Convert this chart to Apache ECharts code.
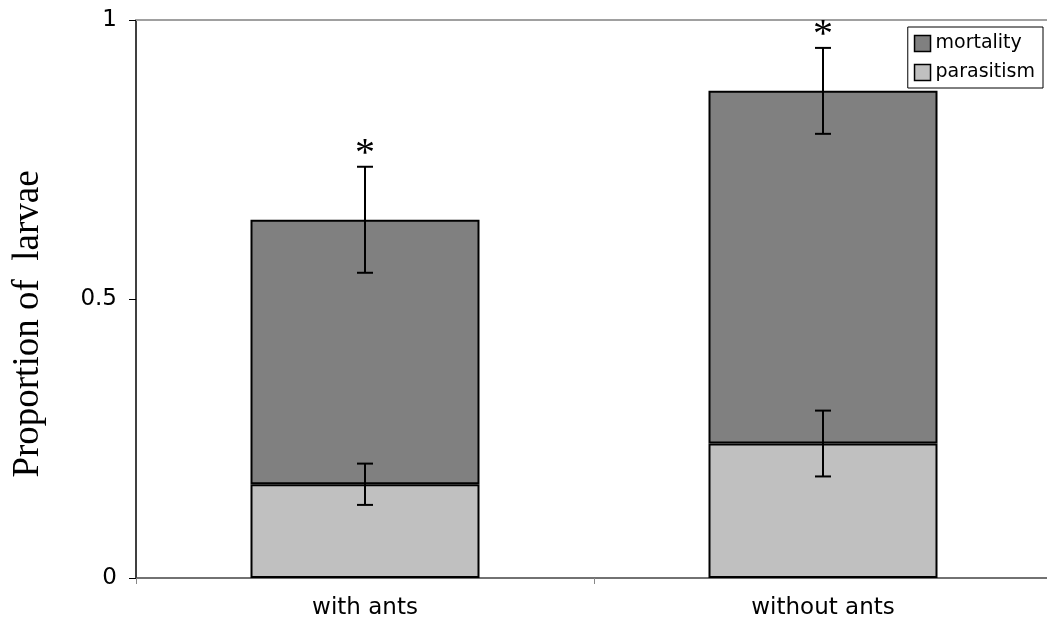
<!DOCTYPE html>
<html>
<head>
<meta charset="utf-8">
<script src="https://cdn.jsdelivr.net/npm/echarts@6/dist/echarts.min.js"></script>
<style>
  html, body { margin: 0; padding: 0; background: #fff; }
  #chart { width: 1047px; height: 627px; }
</style>
</head>
<body>
<div id="chart"></div>
<script>
// Treatments on the category axis
const categories = ['with ants', 'without ants'];
// Proportion of larvae parasitised (bottom segment)
const parasitism = [0.168, 0.241];
// Proportion of larvae dying from other causes (stacked on top)
const mortality = [0.474, 0.632];
// Standard errors: parasitism alone and total (parasitism + mortality)
const parasitismErr = [0.037, 0.059];
const totalErr = [0.095, 0.077];
// Significance marks shown above the total error bars
const significance = ['*', '*'];
// Value axis ticks
const yTicks = [0, 0.5, 1];
// Value axis title
const yTitle = 'Proportion of  larvae';

const sansFont = 'DejaVu Sans';

// Error bar rows: [category index, centre, half-width, mark]
const errorRows = [];
categories.forEach((c, i) => {
  errorRows.push([i, parasitism[i], parasitismErr[i], '']);
  errorRows.push([i, parasitism[i] + mortality[i], totalErr[i], significance[i]]);
});

function renderErrorBar(params, api) {
  const x = api.value(0);
  const mid = api.value(1);
  const err = api.value(2);
  const mark = errorRows[params.dataIndex][3];
  const top = api.coord([x, mid + err]);
  const bottom = api.coord([x, mid - err]);
  const cap = 8;
  const style = { stroke: '#000', lineWidth: 2 };
  const children = [
    { type: 'line', shape: { x1: top[0], y1: top[1], x2: bottom[0], y2: bottom[1] }, style },
    { type: 'line', shape: { x1: top[0] - cap, y1: top[1], x2: top[0] + cap, y2: top[1] }, style },
    { type: 'line', shape: { x1: bottom[0] - cap, y1: bottom[1], x2: bottom[0] + cap, y2: bottom[1] }, style }
  ];
  if (mark) {
    children.push({
      type: 'text',
      style: {
        text: mark, x: top[0], y: top[1] - 12,
        align: 'center', verticalAlign: 'middle',
        font: '40px "Liberation Serif"', fill: '#000'
      }
    });
  }
  return { type: 'group', children };
}

const chart = echarts.init(document.getElementById('chart'), null, { renderer: 'canvas' });

chart.setOption({
  animation: false,
  backgroundColor: '#fff',
  grid: { left: 136, right: -5, top: 20, bottom: 49, containLabel: false, outerBoundsMode: 'none' },
  graphic: [
    {
      type: 'text',
      x: 28,
      y: 324,
      rotation: Math.PI / 2,
      style: {
        text: yTitle,
        align: 'center',
        verticalAlign: 'middle',
        font: '37px "Liberation Serif"',
        fill: '#000'
      }
    }
  ],
  legend: {
    orient: 'vertical',
    right: 4,
    top: 27,
    padding: [7, 8, 6, 6],
    itemGap: 10,
    itemWidth: 16,
    itemHeight: 16,
    borderColor: '#000',
    borderWidth: 1,
    backgroundColor: '#fff',
    textStyle: { fontFamily: sansFont, fontSize: 19, color: '#000' },
    data: [
      { name: 'mortality', icon: 'rect', itemStyle: { color: '#808080', borderColor: '#000', borderWidth: 1.5 } },
      { name: 'parasitism', icon: 'rect', itemStyle: { color: '#c0c0c0', borderColor: '#000', borderWidth: 1.5 } }
    ]
  },
  xAxis: [
    {
      type: 'category',
      data: categories,
      boundaryGap: true,
      axisLine: { lineStyle: { color: '#444', width: 1.5 } },
      axisTick: { show: true, length: 6, inside: false, lineStyle: { color: '#888', width: 1 } },
      axisLabel: { margin: 19, fontFamily: sansFont, fontSize: 23, color: '#000' },
      splitLine: { show: false }
    },
    {
      type: 'category',
      data: categories,
      position: 'top',
      axisLine: { lineStyle: { color: '#a0a0a0', width: 2 } },
      axisTick: { show: false },
      axisLabel: { show: false },
      splitLine: { show: false }
    }
  ],
  yAxis: {
    type: 'value',
    min: 0,
    max: 1,
    interval: 0.5,
    axisLine: { show: true, lineStyle: { color: '#000', width: 1.5 } },
    axisTick: { show: true, length: 7, lineStyle: { color: '#000', width: 1 } },
    axisLabel: {
      margin: 19, fontFamily: sansFont, fontSize: 23, color: '#000',
      formatter: v => (yTicks.indexOf(v) >= 0 ? String(v) : '')
    },
    splitLine: { show: false }
  },
  series: [
    {
      name: 'parasitism',
      type: 'bar',
      stack: 'larvae',
      barWidth: '50%',
      data: parasitism,
      itemStyle: { color: '#c0c0c0', borderColor: '#000', borderWidth: 2 }
    },
    {
      name: 'mortality',
      type: 'bar',
      stack: 'larvae',
      barWidth: '50%',
      data: mortality,
      itemStyle: { color: '#808080', borderColor: '#000', borderWidth: 2 }
    },
    {
      name: 'error',
      type: 'custom',
      renderItem: renderErrorBar,
      data: errorRows.map(r => [r[0], r[1], r[2]]),
      z: 10,
      silent: true
    }
  ]
});
</script>
</body>
</html>
